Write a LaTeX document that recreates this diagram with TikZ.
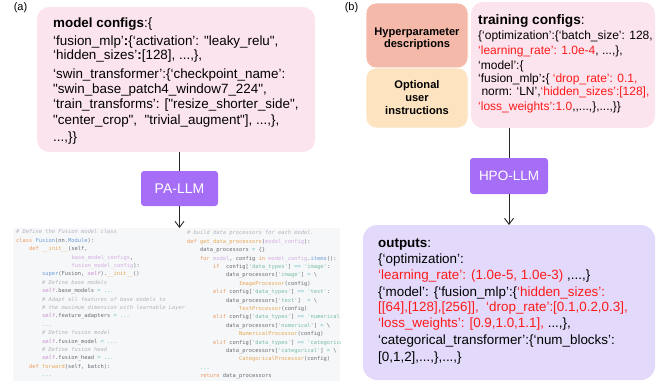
\documentclass[tikz,border=0pt]{standalone}
\usepackage{fontspec}
\setmainfont{Liberation Sans}[Ligatures=TeXOff]
\setmonofont{DejaVu Sans Mono}
\usetikzlibrary{arrows.meta}
\definecolor{cfgpink}{HTML}{FCE4EE}
\definecolor{hpsalmon}{HTML}{F5B9A9}
\definecolor{optpeach}{HTML}{FDE3BF}
\definecolor{llmpurple}{HTML}{A66EF6}
\definecolor{outlav}{HTML}{E3DAFB}
\definecolor{hlred}{HTML}{FF1A1A}
\definecolor{codebg}{HTML}{F6F7F8}
\definecolor{cdtext}{HTML}{666B73}
\definecolor{cdcom}{HTML}{B2B6BC}
\definecolor{cdkw}{HTML}{EA9A62}
\definecolor{cdfn}{HTML}{E8A855}
\definecolor{cdbl}{HTML}{6A9CDB}
\definecolor{cdpar}{HTML}{D2AEE2}
\definecolor{cdself}{HTML}{C98BCE}
\definecolor{cdstr}{HTML}{78BDA4}
\definecolor{cdop}{HTML}{6CBEC9}
\newcommand{\cdKw}[1]{\textcolor{cdkw}{#1}}
\newcommand{\cdFn}[1]{\textcolor{cdfn}{#1}}
\newcommand{\cdBl}[1]{\textcolor{cdbl}{#1}}
\newcommand{\cdPa}[1]{\textcolor{cdpar}{#1}}
\newcommand{\cdSf}[1]{\textcolor{cdself}{\itshape #1}}
\newcommand{\cdSt}[1]{\textcolor{cdstr}{#1}}
\newcommand{\cdOp}[1]{\textcolor{cdop}{#1}}
\newcommand{\cdCm}[1]{\textcolor{cdcom}{\itshape #1}}
\newcommand{\redtx}[1]{\textcolor{hlred}{#1}}
\tikzset{
  panel/.style={inner sep=0pt, outer sep=0pt},
  cfgbox/.style={panel, fill=cfgpink, rounded corners=12pt},
  hpbox/.style={panel, fill=hpsalmon, rounded corners=10pt, draw=white, line width=0.8pt},
  optbox/.style={panel, fill=optpeach, rounded corners=10pt, draw=white, line width=0.8pt},
  outbox/.style={panel, fill=outlav, rounded corners=14pt},
  llm/.style={panel, fill=llmpurple, rounded corners=3pt, text=white},
  ln/.style={anchor=base west, inner sep=0pt},
  mcfont/.style={font=\fontsize{13.4}{16}\selectfont},
  tcfont/.style={font=\fontsize{12}{14}\selectfont},
  cd/.style={anchor=base west, inner sep=0pt, font=\ttfamily\fontsize{5.4}{6}\selectfont, text=cdtext},
  con/.style={draw=black!85, line width=0.9pt},
  arr/.style={con, -{Straight Barb[length=6pt,width=9pt]}},
  lbl/.style={inner sep=0pt, font=\fontsize{11}{13}\selectfont}
}
\begin{document}
\begin{tikzpicture}[x=1pt,y=-1pt]
\useasboundingbox (0,0) rectangle (672,383);

% ---------- (a) ----------
\node[lbl] (la) at (20.5,8) {(a)};
\node[cfgbox, minimum width=278pt, minimum height=145pt] (mc) at (176,79.5) {};
\node[ln, mcfont] (mc1) at (53,27.7) {{\bfseries model configs}:\{};
\node[ln, mcfont] (mc2) at (53,45.7) {‘fusion\_mlp’{\bfseries :}\{‘activation’: "leaky\_relu",};
\node[ln, mcfont] (mc3) at (53,59.7) {‘hidden\_sizes’{\bfseries :}[128], ...,\},};
\node[ln, mcfont] (mc4) at (53,78.7) {‘swin\_transformer’:\{‘checkpoint\_name’:};
\node[ln, mcfont] (mc5) at (53,93.7) {"swin\_base\_patch4\_window7\_224",};
\node[ln, mcfont] (mc6) at (53,108.7) {‘train\_transforms’: ["resize\_shorter\_side",};
\node[ln, mcfont] (mc7) at (53,124.7) {"center\_crop",\ \ "trivial\_augment"], ...,\},};
\node[ln, mcfont] (mc8) at (53,141.7) {...,\}\}};

\node[llm, minimum width=77pt, minimum height=35pt, font=\fontsize{14}{16}\selectfont] (pa) at (179.5,188.5) {PA-LLM};

\node[panel, fill=codebg, minimum width=327pt, minimum height=153pt] (code) at (176.5,304.5) {};

\draw[con] (pa.north |- mc.south) -- (pa.north);
\draw[arr] (pa.south) -- (pa.south |- code.north);

\begin{scope}
\clip (13,228) rectangle (340,381);
% left code
\node[cd] (cl0) at (16,233.8) {\cdCm{\# Define the Fusion model class}};
\node[cd] (cl1) at (16,242.2) {\cdKw{class} \cdBl{Fusion}(nn.\cdBl{Module}):};
\node[cd] (cl2) at (29,250.6) {\cdKw{def} \cdFn{\_\_init\_\_}(self,};
\node[cd] (cl3) at (71.5,259.0) {\cdPa{base\_model\_configs},};
\node[cd] (cl4) at (71.5,267.4) {\cdPa{fusion\_model\_config}):};
\node[cd] (cl5) at (42,275.8) {\cdBl{super}(Fusion, \cdSf{self}).\cdFn{\_\_init\_\_}()};
\node[cd] (cl6) at (42,284.2) {\cdCm{\# Define base models}};
\node[cd] (cl7) at (42,292.6) {\cdSf{self}.base\_models \cdOp{= ...}};
\node[cd] (cl8) at (42,301.0) {\cdCm{\# Adapt all features of base models to}};
\node[cd] (cl9) at (42,309.4) {\cdCm{\# the maximum dimension with learnable Layer}};
\node[cd] (cl10) at (42,317.8) {\cdSf{self}.feature\_adapters \cdOp{= ...}};
\node[cd] (cl11) at (42,326.2) {\cdOp{...}};
\node[cd] (cl12) at (42,334.6) {\cdCm{\# Define fusion model}};
\node[cd] (cl13) at (42,343.0) {\cdSf{self}.fusion\_model \cdOp{= ...}};
\node[cd] (cl14) at (42,351.4) {\cdCm{\# Define fusion head}};
\node[cd] (cl15) at (42,359.8) {\cdSf{self}.fusion\_head \cdOp{= ...}};
\node[cd] (cl16) at (29,368.2) {\cdKw{def} \cdFn{forward}(self, batch):};
\node[cd] (cl17) at (42,376.6) {\cdOp{...}};
% right code
\node[cd] (cr0) at (187,234.8) {\cdCm{\# build data processors for each model.}};
\node[cd] (cr1) at (187,243.2) {\cdKw{def} \cdFn{get\_data\_processors}(\cdPa{model\_config}):};
\node[cd] (cr2) at (200,251.6) {data\_processors \cdOp{=} \{\}};
\node[cd] (cr3) at (200,260.0) {\cdKw{for} \cdPa{model}, config \cdKw{in} \cdPa{model\_config}.\cdBl{items}():};
\node[cd] (cr4) at (213,268.4) {\cdKw{if}\ \ config[\cdSt{'data\_types'}] \cdOp{==} \cdSt{'image'}:};
\node[cd] (cr5) at (226,276.8) {data\_processors[\cdSt{'image'}] \cdOp{=} \textbackslash};
\node[cd] (cr6) at (239,285.2) {\cdFn{ImageProcessor}(config)};
\node[cd] (cr7) at (213,293.6) {\cdKw{elif} config[\cdSt{'data\_types'}] \cdOp{==} \cdSt{'text'}:};
\node[cd] (cr8) at (226,302.0) {data\_processors[\cdSt{'text'}]\ \ \cdOp{=} \textbackslash};
\node[cd] (cr9) at (239,310.4) {\cdFn{TextProcessor}(config)};
\node[cd] (cr10) at (213,318.8) {\cdKw{elif} config[\cdSt{'data\_types'}] \cdOp{==} \cdSt{'numerical'}:};
\node[cd] (cr11) at (226,327.2) {data\_processors[\cdSt{'numerical'}] \cdOp{=} \textbackslash};
\node[cd] (cr12) at (239,335.6) {\cdFn{NumericalProcessor}(config)};
\node[cd] (cr13) at (213,344.0) {\cdKw{elif} config[\cdSt{'data\_types'}] \cdOp{==} \cdSt{'categorical'}:};
\node[cd] (cr14) at (226,352.4) {data\_processors[\cdSt{'categorical'}] \cdOp{=} \textbackslash};
\node[cd] (cr15) at (239,360.8) {\cdFn{CategoricalProcessor}(config)};
\node[cd] (cr16) at (200,369.2) {\cdOp{...}};
\node[cd] (cr17) at (200,377.6) {\cdKw{return} data\_processors};
\end{scope}

% ---------- (b) ----------
\node[lbl] (lb) at (351.5,8) {(b)};
\node[hpbox, minimum width=102pt, minimum height=65pt] (hp) at (417,35.5) {};
\node[optbox, minimum width=102pt, minimum height=60pt] (opt) at (417,98) {};
\node[inner sep=0pt, align=center, font=\bfseries\fontsize{11.1}{12.5}\selectfont] (hpt) at (417,39) {Hyperparameter\\descriptions};
\node[inner sep=0pt, align=center, font=\bfseries\fontsize{11.1}{13}\selectfont] (optt) at (417,98) {Optional\\user\\instructions};

\node[cfgbox, minimum width=184pt, minimum height=126pt] (tc) at (563,65) {};
\node[ln, font=\fontsize{13.7}{16}\selectfont] (tc0) at (478,24.8) {{\bfseries training configs}:};
\node[ln, tcfont] (tc1) at (478,39.2) {\{‘optimization’:\{‘batch\_size’: 128,};
\node[ln, tcfont] (tc2) at (478,54.2) {\redtx{‘learning\_rate’: 1.0e-4}, ...,\},};
\node[ln, tcfont] (tc3) at (478,69.2) {‘model’:\{};
\node[ln, tcfont] (tc4) at (478,82.2) {‘fusion\_mlp’{\bfseries :}\{ \redtx{‘drop\_rate’: 0.1,}};
\node[ln, tcfont] (tc5) at (478,95.2) {\ norm: ‘LN’,\redtx{‘hidden\_sizes’:[128],}};
\node[ln, tcfont] (tc6) at (478,110.2) {\redtx{‘loss\_weights’:1.0},,...,\},...,\}\}};

\node[llm, minimum width=78pt, minimum height=36pt, font=\fontsize{13.5}{16}\selectfont] (hpo) at (509,176) {HPO-LLM};

\node[outbox, minimum width=292pt, minimum height=155pt] (out) at (509,302.5) {};
\node[ln, mcfont] (o0) at (378,247.7) {{\bfseries outputs}:};
\node[ln, mcfont] (o1) at (378,263.7) {\{‘optimization’:};
\node[ln, mcfont] (o2) at (378,279.7) {\redtx{‘learning\_rate’: (1.0e-5, 1.0e-3)} ,...,\}};
\node[ln, mcfont] (o3) at (378,296.7) {\{‘model’: \{‘fusion\_mlp’:\{\redtx{‘hidden\_sizes’:}};
\node[ln, mcfont] (o4) at (378,311.7) {\redtx{[[64],[128],[256]],\ \ ‘drop\_rate’:[0.1,0.2,0.3],}};
\node[ln, mcfont] (o5) at (378,327.7) {\redtx{‘loss\_weights’: [0.9,1.0,1.1],} ...,\},};
\node[ln, mcfont] (o6) at (378,344.7) {‘categorical\_transformer’:\{‘num\_blocks’:};
\node[ln, mcfont] (o7) at (378,361.7) {[0,1,2],...,\},...,\}};

\draw[con] (hpo.north |- tc.south) -- (hpo.north);
\draw[arr] (hpo.south) -- (out.north);
\end{tikzpicture}
\end{document}
